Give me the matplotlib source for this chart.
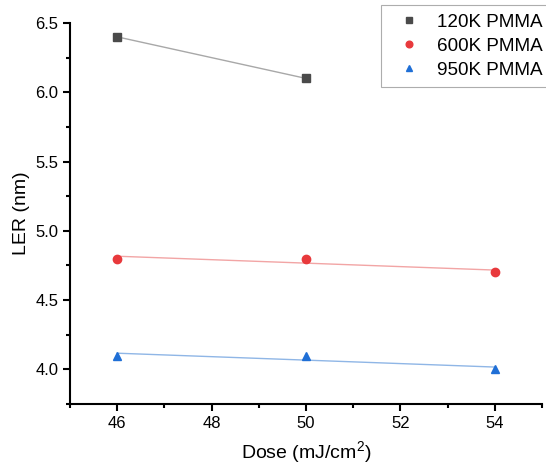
import numpy as np
import matplotlib
matplotlib.use("Agg")
import matplotlib.pyplot as plt
from matplotlib.ticker import MultipleLocator, FormatStrFormatter

plt.rcParams['font.family'] = ['Liberation Sans', 'DejaVu Sans']
plt.rcParams['mathtext.fontset'] = 'custom'
plt.rcParams['mathtext.rm'] = 'Liberation Sans'
plt.rcParams['mathtext.it'] = 'Liberation Sans:italic'
plt.rcParams['mathtext.bf'] = 'Liberation Sans:bold'

dose_120 = [46, 50]
ler_120 = [6.4, 6.1]
dose_600 = [46, 50, 54]
ler_600 = [4.8, 4.8, 4.7]
dose_950 = [46, 50, 54]
ler_950 = [4.1, 4.1, 4.0]
labels = ["120K PMMA", "600K PMMA", "950K PMMA"]

fig = plt.figure(figsize=(5.46, 4.71), dpi=100)
ax = fig.add_axes([70/546, 1-404/471, (542-70)/546, (404-23)/471])

series = [
    (dose_120, ler_120, 's', '#4a4a4a', '#a8a8a8', labels[0]),
    (dose_600, ler_600, 'o', '#e8393c', '#f2a5a5', labels[1]),
    (dose_950, ler_950, '^', '#1f6fd6', '#8fb6e6', labels[2]),
]
handles = []
for xs, ys, m, mc, lc, lab in series:
    xs = np.array(xs, float); ys = np.array(ys, float)
    p = np.polyfit(xs, ys, 1)
    xf = np.array([xs.min(), xs.max()])
    ax.plot(xf, np.polyval(p, xf), color=lc, lw=1.0, zorder=2)
    h, = ax.plot(xs, ys, linestyle='none', marker=m, color=mc, markersize=6, zorder=3, label=lab)
    handles.append(h)

ax.set_xlim(45, 55)
ax.set_ylim(3.75, 6.5)
ax.set_xticks([46, 48, 50, 52, 54])
ax.xaxis.set_minor_locator(MultipleLocator(1))
ax.yaxis.set_major_locator(MultipleLocator(0.5))
ax.yaxis.set_minor_locator(MultipleLocator(0.25))
ax.yaxis.set_major_formatter(FormatStrFormatter('%.1f'))

for s in ['top', 'right']:
    ax.spines[s].set_visible(False)
for s in ['left', 'bottom']:
    ax.spines[s].set_linewidth(1.5)
ax.tick_params(which='major', direction='out', length=5, width=1.5, labelsize=12, pad=3.5, colors='black')
ax.tick_params(which='minor', direction='out', length=3, width=1.5)

ax.set_xlabel("Dose (mJ/cm$^2$)", fontsize=14, labelpad=6)
ax.set_ylabel("LER (nm)", fontsize=14, labelpad=4)

leg = fig.legend(handles=handles, loc='upper left', bbox_to_anchor=(381/546, 1-5/471),
                 borderaxespad=0.0,
                 frameon=True, fancybox=False, edgecolor='#999999', fontsize=13.6,
                 handletextpad=0.45, borderpad=0.45, labelspacing=0.36, handlelength=2.05,
                 markerscale=0.8)
leg.get_frame().set_linewidth(0.8)

fig.savefig("out.png", dpi=100)
